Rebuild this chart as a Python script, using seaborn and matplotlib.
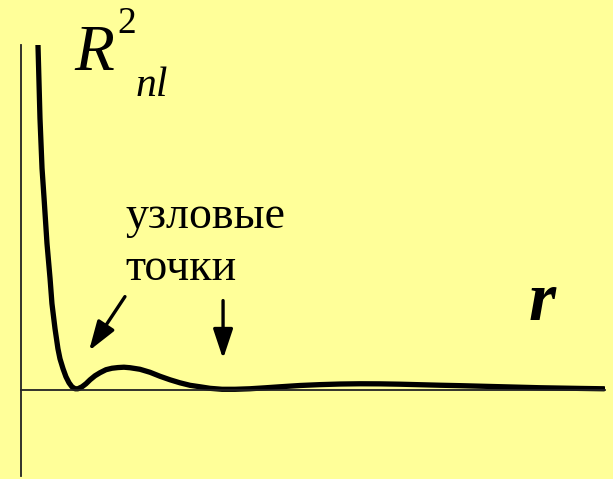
import numpy as np
import matplotlib
matplotlib.use("Agg")
import matplotlib.pyplot as plt
import seaborn as sns

# radial distance r and R^2_nl values
r_vals = [0.110, 0.116, 0.130, 0.144, 0.158, 0.178, 0.199, 0.212, 0.233, 0.253, 0.267,
          0.288, 0.308, 0.329, 0.349, 0.370, 0.390, 0.418, 0.445, 0.473, 0.507,
          0.541, 0.582, 0.623, 0.664, 0.705, 0.747, 0.815, 0.884, 0.952, 1.021,
          1.089, 1.158, 1.226, 1.295, 1.377, 1.466, 1.568, 1.671, 1.774, 1.911,
          2.048, 2.185, 2.322, 2.459, 2.596, 2.733, 2.870, 3.007, 3.144, 3.281,
          3.418, 3.555, 3.692, 3.829, 3.993]
r2_vals = [4.400, 4.023, 3.151, 2.570, 2.221, 1.698, 1.291, 1.000, 0.709, 0.477, 0.360,
           0.244, 0.151, 0.081, 0.035, 0.012, 0.012, 0.035, 0.070, 0.116, 0.163,
           0.198, 0.233, 0.250, 0.258, 0.262, 0.256, 0.238, 0.203, 0.157, 0.116,
           0.081, 0.052, 0.035, 0.017, 0.006, 0.006, 0.012, 0.023, 0.035, 0.050,
           0.060, 0.067, 0.070, 0.069, 0.065, 0.059, 0.053, 0.048, 0.042, 0.036,
           0.030, 0.024, 0.020, 0.016, 0.012]

bg = "#FFFF99"
sns.set_style("white")
plt.rcParams["font.family"] = ["Liberation Serif", "DejaVu Serif"]
plt.rcParams["text.color"] = "black"

fig = plt.figure(figsize=(6.13, 4.79), dpi=100, facecolor=bg)
ax = fig.add_axes([21/613, 3/479, 584/613, 431/479])
ax.set_facecolor(bg)

sns.lineplot(x=r_vals, y=r2_vals, color="black", lw=3.8, ax=ax, sort=False)

ax.set_xlim(0, 4)
ax.set_ylim(-1, 4)
for s in ["top", "right"]:
    ax.spines[s].set_visible(False)
ax.spines["bottom"].set_position(("data", 0))
ax.spines["left"].set_position(("data", 0))
for s in ["bottom", "left"]:
    ax.spines[s].set_color("#222222")
    ax.spines[s].set_linewidth(1.3)
ax.set_xticks([0, 1, 2, 3, 4])
ax.set_yticks([-1, 0, 1, 2, 3, 4])
ax.tick_params(direction="inout", length=3, width=1, color="#222222",
               labelbottom=False, labelleft=False)

# labels
def px(x, y):
    return x / 613, 1 - y / 479

fig.text(*px(74, 70), "R", fontsize=47, style="italic", ha="left", va="baseline")
fig.text(*px(117, 33), "2", fontsize=27, ha="left", va="baseline")
fig.text(*px(136, 96), "nl", fontsize=30, style="italic", ha="left", va="baseline")
fig.text(*px(125, 228), "узловые", fontsize=33, ha="left", va="baseline")
fig.text(*px(125, 280), "точки", fontsize=33, ha="left", va="baseline")
fig.text(*px(529, 320), "r", fontsize=50, style="italic", weight="bold",
         ha="left", va="baseline")

arrow = dict(arrowstyle="-|>,head_length=0.9,head_width=0.3", color="black",
             lw=2.4, mutation_scale=20, shrinkA=0, shrinkB=0)
ax.annotate("", xy=(0.466, 0.453), xytext=(0.712, 1.081), arrowprops=arrow)
ax.annotate("", xy=(1.384, 0.36), xytext=(1.384, 1.035), arrowprops=arrow)

fig.savefig("out.png", dpi=100, facecolor=bg)
